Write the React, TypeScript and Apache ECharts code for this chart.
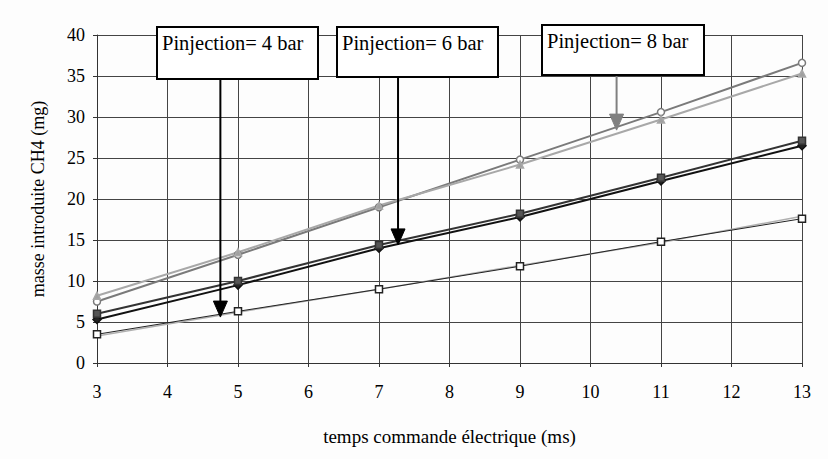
import React, { useEffect, useRef } from "react";
import * as echarts from "echarts";

const xValues = [3, 5, 7, 9, 11, 13];
const xTicks = [3, 4, 5, 6, 7, 8, 9, 10, 11, 12, 13];
const yTicks = [0, 5, 10, 15, 20, 25, 30, 35, 40];

// 8 bar
const p8a = [7.5, 13.2, 19.0, 24.8, 30.6, 36.6];
const p8b = [8.2, 13.5, 19.2, 24.2, 29.7, 35.3];
// 6 bar
const p6a = [5.3, 9.5, 14.0, 17.8, 22.2, 26.5];
const p6b = [6.0, 10.0, 14.4, 18.2, 22.6, 27.1];
// 4 bar
const p4a = [3.5, 6.3, 9.0, 11.8, 14.8, 17.6];
const p4b = [3.3, 6.2, 9.0, 11.9, 14.7, 17.9];

const annotations = [
  { label: "Pinjection= 4 bar", x: 4.75, tip: 5.6, color: "#000", box: [157, 27, 161, 52] },
  { label: "Pinjection= 6 bar", x: 7.27, tip: 14.4, color: "#000", box: [337, 27, 161, 50] },
  { label: "Pinjection= 8 bar", x: 10.37, tip: 28.4, color: "#808080", box: [542, 25, 162, 50] },
];

const FONT = "Times";

function pairs(ys: number[]) {
  return xValues.map((x, i) => [x, ys[i]]);
}

export default function App() {
  const ref = useRef<HTMLDivElement>(null);
  useEffect(() => {
    if (!ref.current) return;
    const chart = echarts.init(ref.current, null, { renderer: "svg" });
    const mk = (name: string, data: number[], color: string, width: number, symbol: string, size: number, fill: string, z = 2) => ({
      name,
      type: "line",
      data: pairs(data),
      symbol,
      symbolSize: size,
      z,
      lineStyle: { color, width },
      itemStyle: { color: fill, borderColor: color, borderWidth: 1.5 },
    });
    chart.setOption({
      animation: false,
      backgroundColor: "#fdfdfd",
      textStyle: { fontFamily: FONT },
      grid: { left: 97, right: 26, top: 35, bottom: 96 },
      xAxis: {
        type: "value",
        min: 3,
        max: 13,
        interval: 1,
        name: "temps commande électrique (ms)",
        nameLocation: "middle",
        nameGap: 64,
        nameTextStyle: { fontFamily: FONT, fontSize: 19, color: "#000" },
        axisLine: { lineStyle: { color: "#333", width: 1 } },
        axisTick: { show: true, length: 4, lineStyle: { color: "#333" } },
        axisLabel: { fontFamily: FONT, fontSize: 18, color: "#000", margin: 20 },
        splitLine: { show: true, lineStyle: { color: "#444", width: 1 } },
      },
      yAxis: {
        type: "value",
        min: 0,
        max: 40,
        interval: 5,
        name: "masse introduite CH4 (mg)",
        nameLocation: "middle",
        nameGap: 50,
        nameRotate: 90,
        nameTextStyle: { fontFamily: FONT, fontSize: 18, color: "#000" },
        axisLine: { show: true, lineStyle: { color: "#333", width: 1 } },
        axisTick: { show: true, length: 4, lineStyle: { color: "#333" } },
        axisLabel: { fontFamily: FONT, fontSize: 18, color: "#000", margin: 12 },
        splitLine: { show: true, lineStyle: { color: "#444", width: 1 } },
      },
      series: [
        mk("8 bar a", p8a, "#7a7a7a", 2, "circle", 7, "#fff"),
        mk("8 bar b", p8b, "#a8a8a8", 2, "triangle", 7, "#a0a0a0"),
        mk("6 bar a", p6a, "#111", 2, "diamond", 8, "#222", 3),
        mk("6 bar b", p6b, "#333", 2, "rect", 7, "#555", 3),
        mk("4 bar a", p4a, "#222", 1, "rect", 7, "#fff", 4),
        mk("4 bar b", p4b, "#b0b0b0", 1.5, "none", 6, "#b0b0b0"),
      ],
    });

    const graphic: any[] = [];
    annotations.forEach((a) => {
      const [bx, by, bw, bh] = a.box;
      const tip = chart.convertToPixel({ gridIndex: 0 }, [a.x, a.tip]) as number[];
      const px = tip[0];
      const headH = 16;
      const headW = 7;
      graphic.push({
        type: "line",
        z: 50,
        shape: { x1: px, y1: by + bh, x2: px, y2: tip[1] - headH + 1 },
        style: { stroke: a.color, lineWidth: 2 },
      });
      graphic.push({
        type: "polygon",
        z: 50,
        shape: { points: [[px - headW, tip[1] - headH], [px + headW, tip[1] - headH], [px, tip[1]]] },
        style: { fill: a.color, stroke: a.color },
      });
      graphic.push({
        type: "rect",
        z: 60,
        shape: { x: bx, y: by, width: bw, height: bh },
        style: { fill: "#fff", stroke: "#000", lineWidth: 2 },
      });
      graphic.push({
        type: "text",
        z: 61,
        x: bx + 5,
        y: by + 5,
        style: { text: a.label, fontFamily: FONT, fontSize: 20.5, fill: "#000" },
      });
    });
    chart.setOption({ graphic });
    return () => chart.dispose();
  }, []);
  return <div ref={ref} style={{ width: 828, height: 459, position: "absolute", left: 0, top: 0 }} />;
}
